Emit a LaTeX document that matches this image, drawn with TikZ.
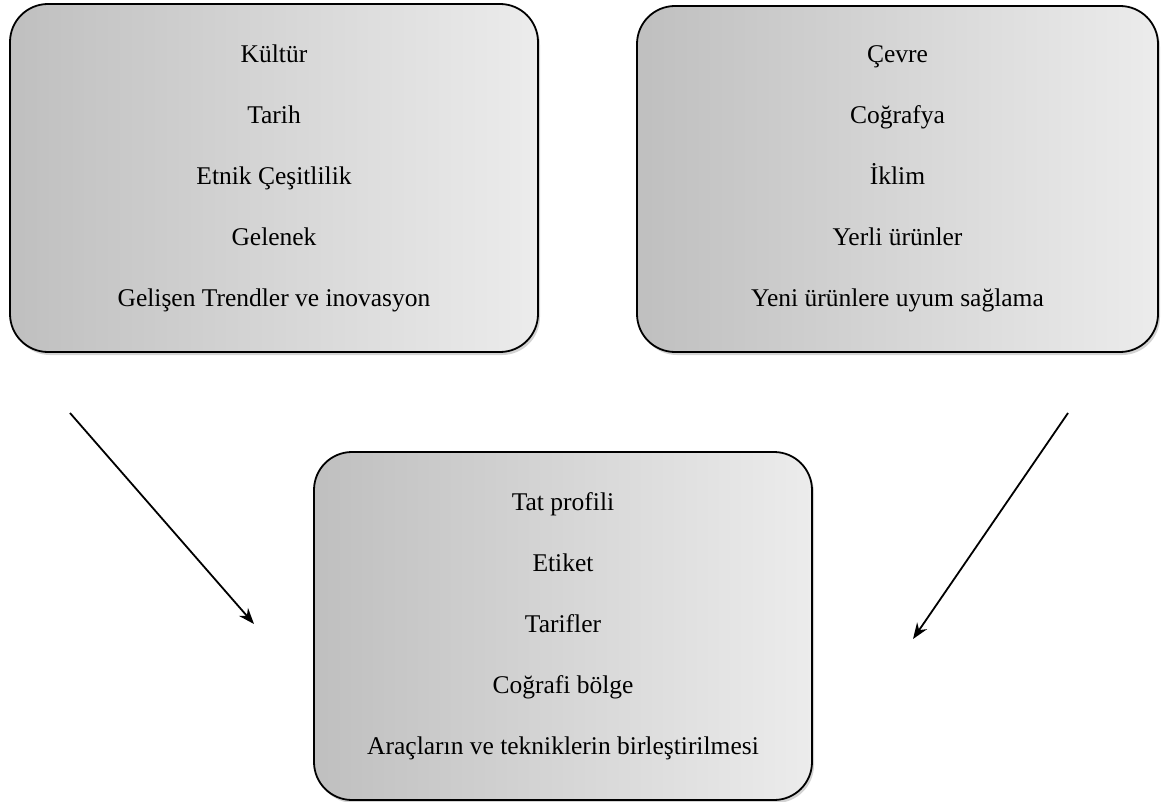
\documentclass[tikz,border=0pt]{standalone}
\usepackage{fontspec}
\setmainfont{Liberation Serif}
\usetikzlibrary{shadows,arrows.meta}
\tikzset{
  gbox/.style={draw=black, line width=1.8pt, rounded corners=38pt,
    left color=gray!50, right color=gray!15, align=center,
    inner sep=0pt,
    font=\fontsize{25.5pt}{61pt}\selectfont,
    drop shadow={opacity=0.35, shadow xshift=2pt, shadow yshift=-3pt}},
  conn/.style={line width=1.8pt, -{Stealth[length=16pt,width=12pt]}}
}
\begin{document}
\begin{tikzpicture}[x=1pt,y=-1pt]
\useasboundingbox (0,0) rectangle (1161,802);
\node[gbox, minimum width=528pt, minimum height=348pt] (L) at (274,178)
  {Kültür\\Tarih\\Etnik Çeşitlilik\\Gelenek\\Gelişen Trendler ve inovasyon};
\node[gbox, minimum width=521pt, minimum height=346pt] (R) at (897.5,179)
  {Çevre\\Coğrafya\\İklim\\Yerli ürünler\\Yeni ürünlere uyum sağlama};
\node[gbox, minimum width=498pt, minimum height=348pt] (B) at (563,626)
  {Tat profili\\Etiket\\Tarifler\\Coğrafi bölge\\Araçların ve tekniklerin birleştirilmesi};
\coordinate (ls) at (70,413);
\coordinate (le) at (254,624);
\coordinate (rs) at (1068,413);
\coordinate (re) at (913,639);
\draw[conn] (ls) -- (le);
\draw[conn] (rs) -- (re);
\end{tikzpicture}
\end{document}
